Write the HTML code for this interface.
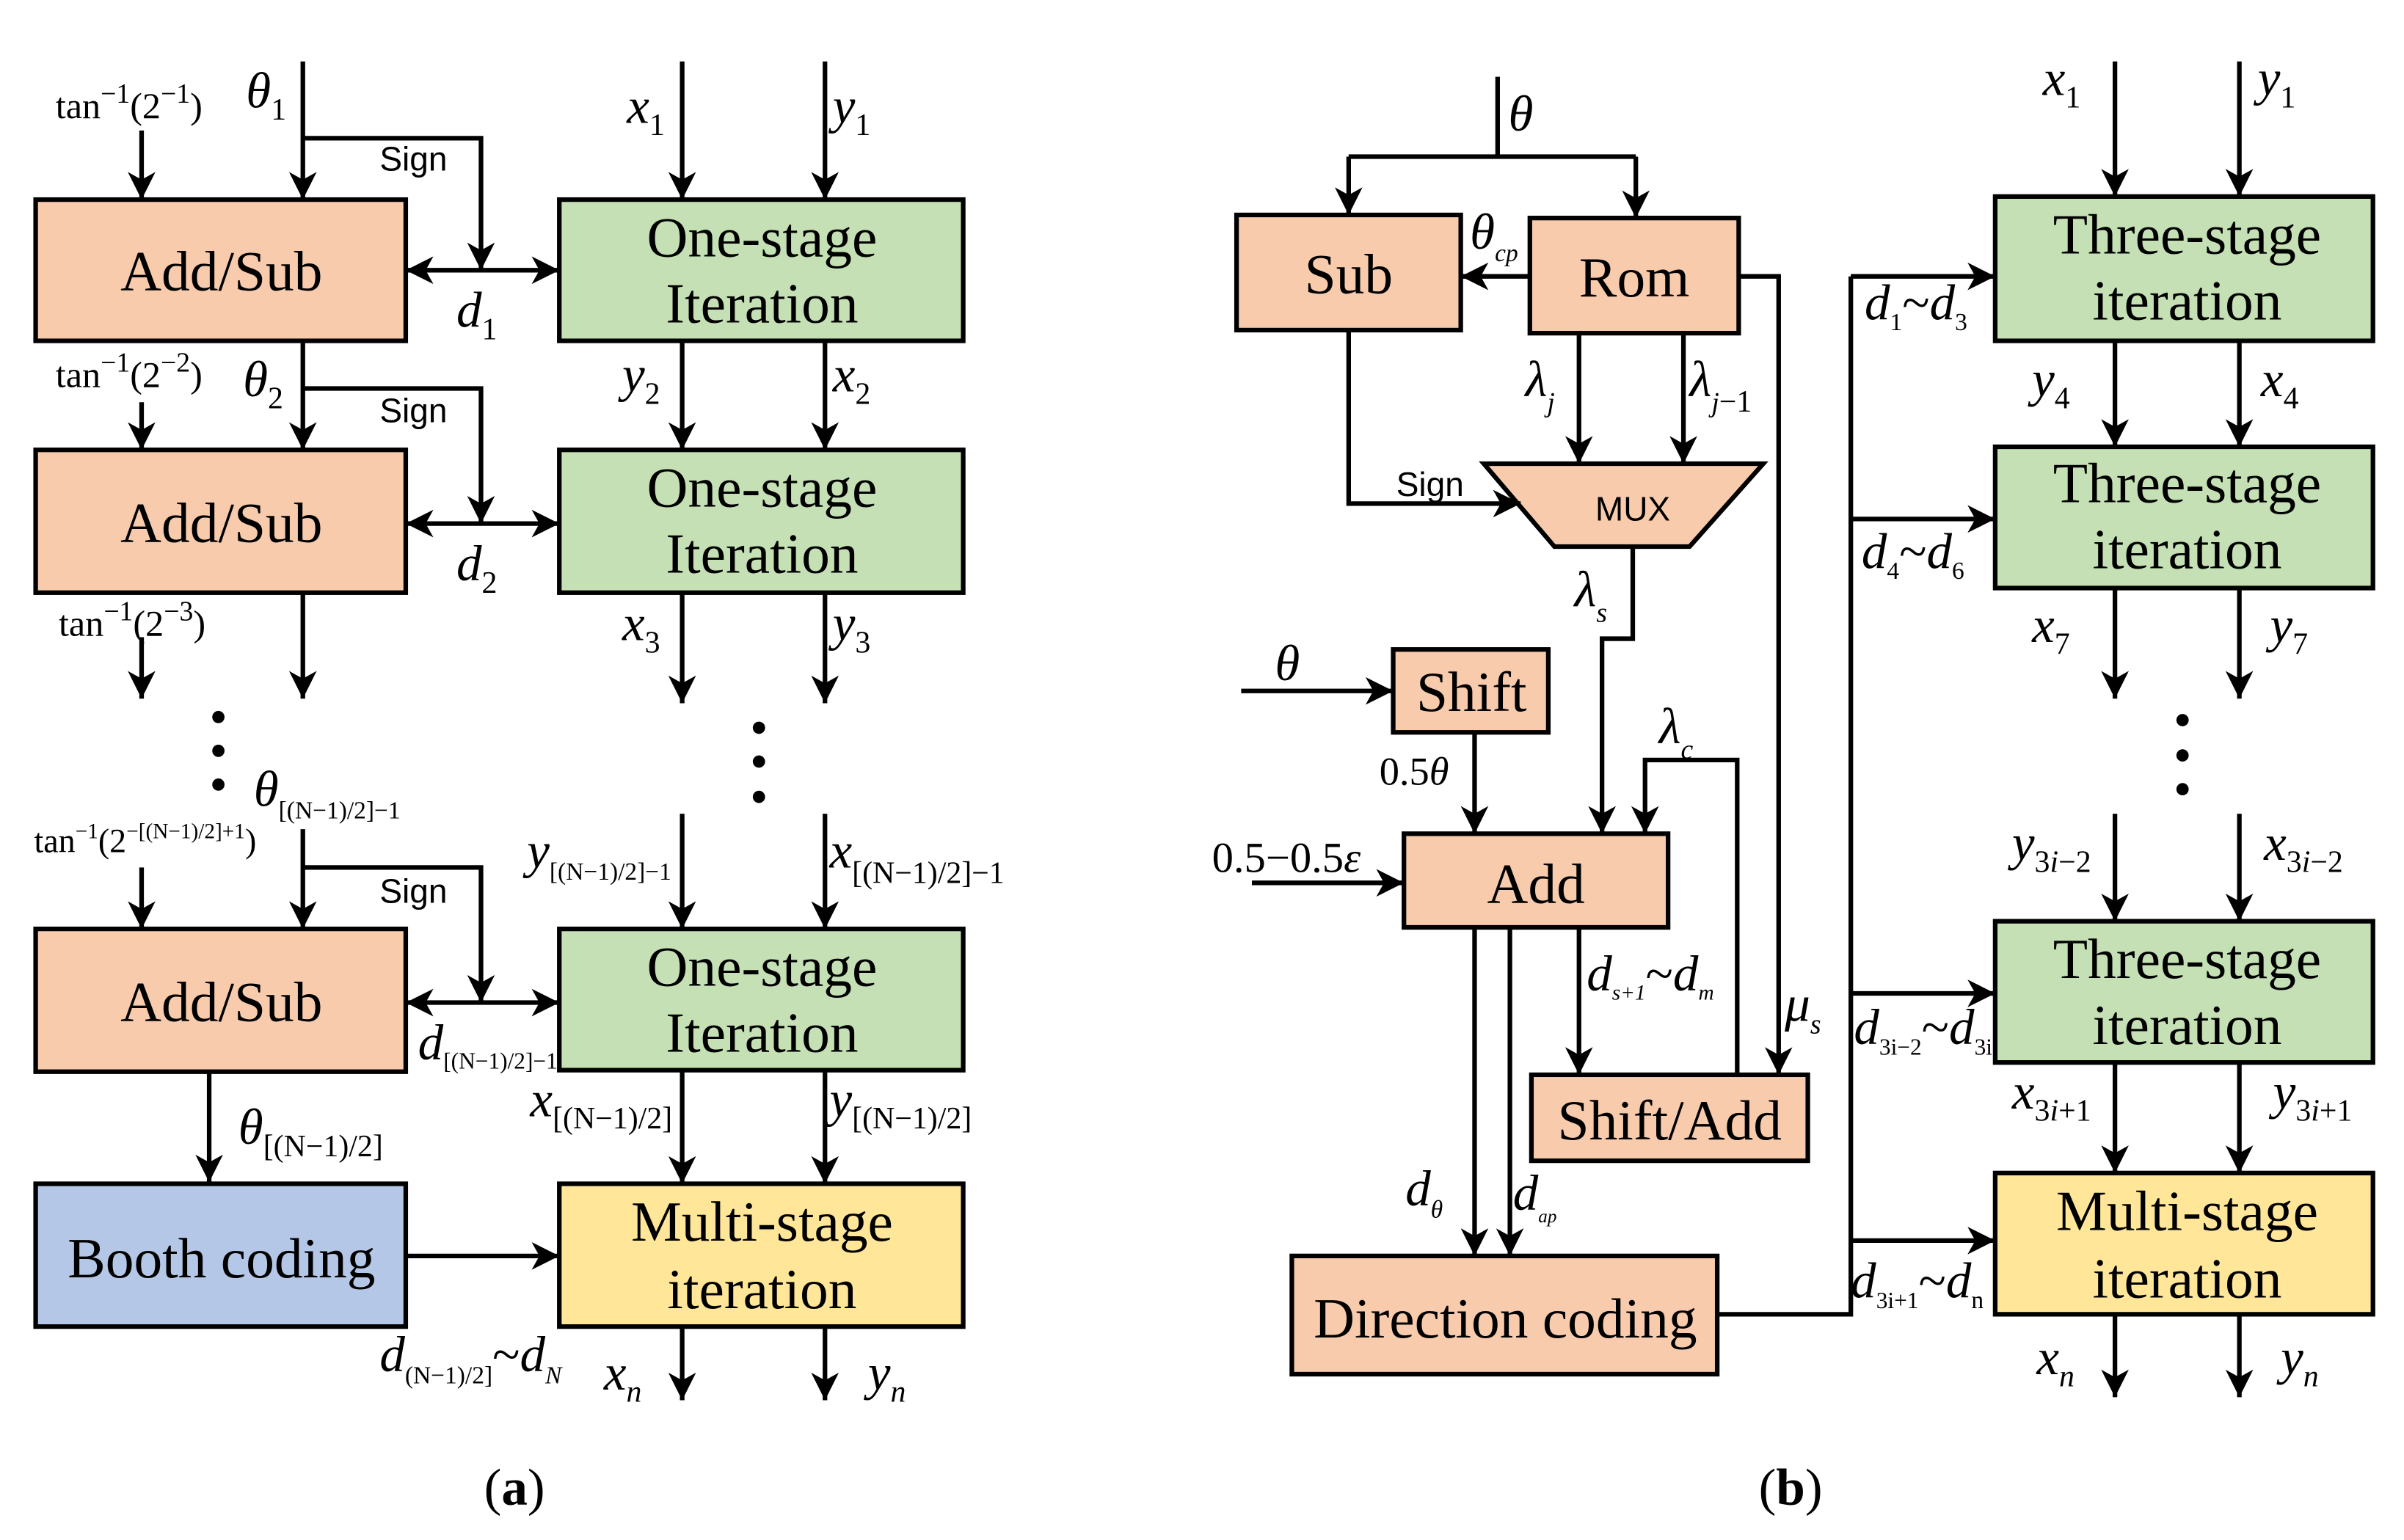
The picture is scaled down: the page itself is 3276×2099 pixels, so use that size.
<!DOCTYPE html>
<html><head><meta charset="utf-8"><style>
html,body{margin:0;padding:0;background:#fff;}
svg{display:block;}
text{font-family:"Liberation Serif",serif;fill:#000;}
.b{font-size:37px;}
.i{font-style:italic;font-size:33px;}
.s{font-size:18px;}
.sg{font-family:"Liberation Sans",sans-serif;font-size:22px;}
</style></head><body>
<svg width="3276" height="2099" viewBox="0 0 1565 1003" xmlns="http://www.w3.org/2000/svg">
<defs>
<marker id="a" markerUnits="userSpaceOnUse" markerWidth="20" markerHeight="18" refX="18" refY="9" orient="auto-start-reverse"><path d="M0,0 L18,9 L0,18 L5,9 z" fill="#000"/></marker>
</defs>
<g stroke="#000" stroke-width="3">
<rect x="23" y="130" width="241" height="92" fill="#f8cbad"/>
<rect x="23" y="293" width="241" height="93" fill="#f8cbad"/>
<rect x="23" y="605" width="241" height="93" fill="#f8cbad"/>
<rect x="364" y="130" width="263" height="92" fill="#c5e0b4"/>
<rect x="364" y="293" width="263" height="93" fill="#c5e0b4"/>
<rect x="364" y="605" width="263" height="92" fill="#c5e0b4"/>
<rect x="23" y="771" width="241" height="93" fill="#b4c7e7"/>
<rect x="364" y="771" width="263" height="93" fill="#ffe699"/>
<rect x="805" y="140" width="146" height="75" fill="#f8cbad"/>
<rect x="996" y="142" width="136" height="75" fill="#f8cbad"/>
<polygon points="966,302 1148,302 1100,356 1012,356" fill="#f8cbad"/>
<rect x="907" y="423" width="101" height="54" fill="#f8cbad"/>
<rect x="914" y="543" width="172" height="61" fill="#f8cbad"/>
<rect x="997" y="700" width="180" height="56" fill="#f8cbad"/>
<rect x="841" y="818" width="277" height="77" fill="#f8cbad"/>
<rect x="1299" y="128" width="246" height="94" fill="#c5e0b4"/>
<rect x="1299" y="291" width="246" height="92" fill="#c5e0b4"/>
<rect x="1299" y="600" width="246" height="92" fill="#c5e0b4"/>
<rect x="1299" y="764" width="246" height="92" fill="#ffe699"/>
</g>
<g stroke="#000" stroke-width="3" fill="none" marker-end="url(#a)">
<path d="M92,85 V130"/><path d="M197,40 V130"/><path d="M197,90 H313 V176"/>
<path d="M444,40 V130"/><path d="M537,40 V130"/>
<path d="M197,222 V293"/><path d="M92,262 V293"/><path d="M197,253 H313 V341"/>
<path d="M444,222 V293"/><path d="M537,222 V293"/>
<path d="M92,415 V455"/><path d="M197,386 V455"/>
<path d="M444,386 V458"/><path d="M537,386 V458"/>
<path d="M92,565 V605"/><path d="M197,540 V605"/><path d="M197,565 H313 V653"/>
<path d="M444,530 V605"/><path d="M537,530 V605"/>
<path d="M136,698 V770"/><path d="M444,697 V771"/><path d="M537,697 V771"/>
<path d="M264,818 H364"/>
<path d="M444,864 V912"/><path d="M537,864 V912"/>
<path d="M878,102 V140"/><path d="M1065,102 V142"/>
<path d="M996,180 H951"/>
<path d="M878,215 V328 H990"/>
<path d="M1028,217 V302"/><path d="M1096,217 V302"/>
<path d="M1063,356 V416 H1043 V543"/>
<path d="M1132,180 H1158 V700"/>
<path d="M808,450 H907"/>
<path d="M960,477 V543"/>
<path d="M815,575 H914"/>
<path d="M1131,700 V495 H1071 V543"/>
<path d="M1028,604 V700"/>
<path d="M960,604 V818"/><path d="M983,604 V818"/>
<path d="M1205,180 H1299"/><path d="M1205,338 H1299"/><path d="M1205,647 H1299"/><path d="M1205,808 H1299"/>
<path d="M1377,40 V128"/><path d="M1458,40 V128"/>
<path d="M1377,222 V291"/><path d="M1458,222 V291"/>
<path d="M1377,383 V455"/><path d="M1458,383 V455"/>
<path d="M1377,530 V600"/><path d="M1458,530 V600"/>
<path d="M1377,692 V764"/><path d="M1458,692 V764"/>
<path d="M1377,856 V910"/><path d="M1458,856 V910"/>
</g>
<g stroke="#000" stroke-width="3" fill="none">
<path d="M264,176 H364" marker-start="url(#a)" marker-end="url(#a)"/>
<path d="M264,341 H364" marker-start="url(#a)" marker-end="url(#a)"/>
<path d="M264,653 H364" marker-start="url(#a)" marker-end="url(#a)"/>
<path d="M975,50 V102 M878,102 H1065"/>
<path d="M1118,856 H1205 V180"/>
</g>
<g fill="#000">
<circle cx="142" cy="467" r="4"/><circle cx="142" cy="489" r="4"/><circle cx="142" cy="511" r="4"/>
<circle cx="494" cy="474" r="4"/><circle cx="494" cy="496" r="4"/><circle cx="494" cy="519" r="4"/>
<circle cx="1421" cy="469" r="4"/><circle cx="1421" cy="492" r="4"/><circle cx="1421" cy="514" r="4"/>
</g>
<g class="b" text-anchor="middle">
<text x="144" y="189" class="b">Add/Sub</text>
<text x="144" y="353" class="b">Add/Sub</text>
<text x="144" y="665" class="b">Add/Sub</text>
<text x="496" y="167" class="b">One-stage</text><text x="496" y="210" class="b">Iteration</text>
<text x="496" y="330" class="b">One-stage</text><text x="496" y="373" class="b">Iteration</text>
<text x="496" y="642" class="b">One-stage</text><text x="496" y="685" class="b">Iteration</text>
<text x="144" y="832" class="b">Booth coding</text>
<text x="496" y="808" class="b">Multi-stage</text><text x="496" y="852" class="b">iteration</text>
<text x="878" y="191" class="b">Sub</text>
<text x="1064" y="193" class="b">Rom</text>
<text x="958" y="463" class="b">Shift</text>
<text x="1000" y="588" class="b">Add</text>
<text x="1087" y="742" class="b">Shift/Add</text>
<text x="980" y="871" class="b">Direction coding</text>
<text x="1424" y="165" class="b">Three-stage</text><text x="1424" y="208" class="b">iteration</text>
<text x="1424" y="327" class="b">Three-stage</text><text x="1424" y="370" class="b">iteration</text>
<text x="1424" y="637" class="b">Three-stage</text><text x="1424" y="680" class="b">iteration</text>
<text x="1424" y="801" class="b">Multi-stage</text><text x="1424" y="845" class="b">iteration</text>
</g>
<text x="1063" y="339" class="sg" text-anchor="middle">MUX</text>
<text x="247" y="111" class="sg">Sign</text>
<text x="247" y="275" class="sg">Sign</text>
<text x="247" y="588" class="sg">Sign</text>
<text x="909" y="323" class="sg">Sign</text>
<text x="36" y="77" font-size="24">tan<tspan dy="-10" class="s">−1</tspan><tspan dy="10">(2</tspan><tspan dy="-10" class="s">−1</tspan><tspan dy="10">)</tspan></text>
<text x="160" y="70" class="i">θ<tspan dy="8" font-style="normal" font-size="20">1</tspan></text>
<text x="36" y="252" font-size="24">tan<tspan dy="-10" class="s">−1</tspan><tspan dy="10">(2</tspan><tspan dy="-10" class="s">−2</tspan><tspan dy="10">)</tspan></text>
<text x="158" y="258" class="i">θ<tspan dy="8" font-style="normal" font-size="20">2</tspan></text>
<text x="38" y="414" font-size="24">tan<tspan dy="-10" class="s">−1</tspan><tspan dy="10">(2</tspan><tspan dy="-10" class="s">−3</tspan><tspan dy="10">)</tspan></text>
<text x="22" y="555" font-size="22">tan<tspan dy="-9" font-size="14">−1</tspan><tspan dy="9">(2</tspan><tspan dy="-9" font-size="14">−[(N−1)/2]+1</tspan><tspan dy="9">)</tspan></text>
<text x="165" y="525" class="i" font-size="30">θ<tspan dy="8" font-style="normal" font-size="16">[(N−1)/2]−1</tspan></text>
<text x="297" y="213" class="i">d<tspan dy="8" font-style="normal" font-size="20">1</tspan></text>
<text x="297" y="378" class="i">d<tspan dy="8" font-style="normal" font-size="20">2</tspan></text>
<text x="272" y="690" class="i" font-size="26">d<tspan dy="6" font-style="normal" font-size="15">[(N−1)/2]−1</tspan></text>
<text x="408" y="80" class="i">x<tspan dy="8" font-style="normal" font-size="20">1</tspan></text>
<text x="542" y="80" class="i">y<tspan dy="8" font-style="normal" font-size="20">1</tspan></text>
<text x="405" y="255" class="i">y<tspan dy="8" font-style="normal" font-size="20">2</tspan></text>
<text x="542" y="255" class="i">x<tspan dy="8" font-style="normal" font-size="20">2</tspan></text>
<text x="405" y="417" class="i">x<tspan dy="8" font-style="normal" font-size="20">3</tspan></text>
<text x="542" y="417" class="i">y<tspan dy="8" font-style="normal" font-size="20">3</tspan></text>
<text x="343" y="565" class="i" font-size="30">y<tspan dy="8" font-style="normal" font-size="16">[(N−1)/2]−1</tspan></text>
<text x="540" y="565" class="i" font-size="30">x<tspan dy="10" font-style="normal" font-size="20">[(N−1)/2]−1</tspan></text>
<text x="155" y="745" class="i">θ<tspan dy="8" font-style="normal" font-size="20">[(N−1)/2]</tspan></text>
<text x="345" y="727" class="i" font-size="30">x<tspan dy="8" font-style="normal" font-size="20">[(N−1)/2]</tspan></text>
<text x="540" y="727" class="i" font-size="30">y<tspan dy="8" font-style="normal" font-size="20">[(N−1)/2]</tspan></text>
<text x="247" y="893" class="i" font-size="30">d<tspan dy="8" font-style="normal" font-size="16">(N−1)/2]</tspan><tspan dy="-8" font-style="normal">~</tspan>d<tspan dy="8" font-size="16">N</tspan></text>
<text x="393" y="905" class="i">x<tspan dy="8" font-size="20">n</tspan></text>
<text x="565" y="905" class="i">y<tspan dy="8" font-size="20">n</tspan></text>
<text x="315" y="980" font-size="34">(<tspan font-weight="bold">a</tspan>)</text>
<text x="982" y="85" class="i" font-size="34">θ</text>
<text x="957" y="162" class="i" font-size="26">θ<tspan dy="8" font-size="16">cp</tspan></text>
<text x="993" y="258" class="i">λ<tspan dy="10" font-size="18">j</tspan></text>
<text x="1100" y="258" class="i">λ<tspan dy="10" font-size="18">j</tspan><tspan font-style="normal" font-size="20">−1</tspan></text>
<text x="1025" y="395" class="i">λ<tspan dy="10" font-size="18">s</tspan></text>
<text x="830" y="443" class="i">θ</text>
<text x="898" y="511" font-size="26">0.5<tspan font-style="italic">θ</tspan></text>
<text x="789" y="568" font-size="28">0.5−0.5<tspan font-style="italic">ε</tspan></text>
<text x="1080" y="484" class="i">λ<tspan dy="10" font-size="18">c</tspan></text>
<text x="1033" y="645" class="i" font-size="26">d<tspan dy="6" font-size="14">s+1</tspan><tspan dy="-6" font-style="normal">~</tspan>d<tspan dy="6" font-size="14">m</tspan></text>
<text x="1162" y="665" class="i">μ<tspan dy="8" font-size="18">s</tspan></text>
<text x="915" y="785" class="i">d<tspan dy="8" font-size="16">θ</tspan></text>
<text x="985" y="788" class="i" font-size="22">d<tspan dy="8" font-size="12">ap</tspan></text>
<text x="1214" y="208" class="i" font-size="28">d<tspan dy="7" font-style="normal" font-size="16">1</tspan><tspan dy="-7" font-style="normal">~</tspan>d<tspan dy="7" font-style="normal" font-size="16">3</tspan></text>
<text x="1212" y="370" class="i" font-size="28">d<tspan dy="7" font-style="normal" font-size="16">4</tspan><tspan dy="-7" font-style="normal">~</tspan>d<tspan dy="7" font-style="normal" font-size="16">6</tspan></text>
<text x="1207" y="680" class="i" font-size="28">d<tspan dy="7" font-style="normal" font-size="15">3i−2</tspan><tspan dy="-7" font-style="normal">~</tspan>d<tspan dy="7" font-style="normal" font-size="15">3i</tspan></text>
<text x="1205" y="845" class="i" font-size="28">d<tspan dy="7" font-style="normal" font-size="15">3i+1</tspan><tspan dy="-7" font-style="normal">~</tspan>d<tspan dy="7" font-style="normal" font-size="16">n</tspan></text>
<text x="1330" y="62" class="i">x<tspan dy="8" font-style="normal" font-size="20">1</tspan></text>
<text x="1470" y="62" class="i">y<tspan dy="8" font-style="normal" font-size="20">1</tspan></text>
<text x="1323" y="258" class="i">y<tspan dy="8" font-style="normal" font-size="20">4</tspan></text>
<text x="1472" y="258" class="i">x<tspan dy="8" font-style="normal" font-size="20">4</tspan></text>
<text x="1323" y="418" class="i">x<tspan dy="8" font-style="normal" font-size="20">7</tspan></text>
<text x="1478" y="418" class="i">y<tspan dy="8" font-style="normal" font-size="20">7</tspan></text>
<text x="1310" y="560" class="i">y<tspan dy="8" font-style="normal" font-size="20">3<tspan font-style="italic">i</tspan>−2</tspan></text>
<text x="1474" y="560" class="i">x<tspan dy="8" font-style="normal" font-size="20">3<tspan font-style="italic">i</tspan>−2</tspan></text>
<text x="1310" y="722" class="i">x<tspan dy="8" font-style="normal" font-size="20">3<tspan font-style="italic">i</tspan>+1</tspan></text>
<text x="1480" y="722" class="i">y<tspan dy="8" font-style="normal" font-size="20">3<tspan font-style="italic">i</tspan>+1</tspan></text>
<text x="1326" y="895" class="i">x<tspan dy="8" font-size="20">n</tspan></text>
<text x="1485" y="895" class="i">y<tspan dy="8" font-size="20">n</tspan></text>
<text x="1145" y="980" font-size="34">(<tspan font-weight="bold">b</tspan>)</text>
</svg>
</body></html>
